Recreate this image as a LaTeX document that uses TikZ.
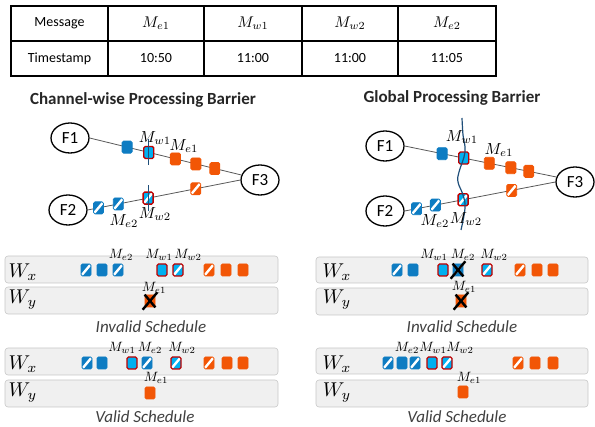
\documentclass[tikz,border=0pt]{standalone}
\usepackage{fontspec}
\setmainfont{Carlito}
\usetikzlibrary{shapes.geometric,calc}
\definecolor{msgblue}{HTML}{0E7CC2}
\definecolor{msgcyan}{HTML}{00B0F0}
\definecolor{msgorange}{HTML}{F25606}
\definecolor{msgred}{HTML}{C00000}
\definecolor{barrierblue}{HTML}{1F4E79}
\tikzset{
 flow/.style={ellipse,draw,line width=1.3pt,minimum width=38pt,minimum height=30pt,
   inner sep=0pt,font=\fontsize{17}{20}\selectfont},
 channel/.style={draw=black!65,line width=0.8pt},
 msg/.style={rectangle,rounded corners=1.5pt,minimum width=10pt,minimum height=12pt,
   inner sep=0pt,line width=0.8pt},
 striped/.style={path picture={\draw[white,line width=2.4pt]
   (path picture bounding box.south west) -- (path picture bounding box.north east);}},
 west msg/.style={msg,fill=msgblue,draw=msgblue},
 east msg/.style={msg,fill=msgorange,draw=msgorange},
 west late/.style={west msg,striped},
 east late/.style={east msg,striped},
 marker/.style={msg,draw=msgred,line width=1.3pt,fill=msgcyan},
 marker late/.style={marker,striped},
 barrier/.style={draw=barrierblue,line width=1.2pt},
 lab/.style={inner sep=0pt,scale=1.6},
 slab/.style={inner sep=0pt,scale=1.35},
 lane/.style={draw=black!22,fill=black!6,rounded corners=3pt,line width=0.6pt},
 lanename/.style={inner sep=0pt,scale=2},
 caption/.style={text=black!75,font=\fontsize{17}{20}\selectfont\itshape},
 heading/.style={text=black!85,font=\fontsize{17}{20}\selectfont\bfseries},
 cell/.style={font=\fontsize{14}{17}\selectfont},
 mcell/.style={scale=1.55},
 dropped/.style={line width=2.4pt,shorten >=-3pt,shorten <=-3pt}
}
\begin{document}
\begin{tikzpicture}[x=1pt,y=-1pt]
\useasboundingbox (0,0) rectangle (595,427);
% timestamps
\draw[line width=1.6pt] (11,6) rectangle (496,76);
\draw[line width=1.1pt] (11,41) -- (496,41);
\foreach \x in {108,204,302,398} \draw[line width=1.1pt] (\x,6) -- (\x,76);
\node[cell] (h0) at (59.5,23.5) {Message};
\node[mcell] (h1) at (156,23.5) {$M_{e1}$};
\node[mcell] (h2) at (253,23.5) {$M_{w1}$};
\node[mcell] (h3) at (350,23.5) {$M_{w2}$};
\node[mcell] (h4) at (447,23.5) {$M_{e2}$};
\node[cell] (t0) at (59.5,58.5) {Timestamp};
\node[cell] (t1) at (156,58.5) {10:50};
\node[cell] (t2) at (253,58.5) {11:00};
\node[cell] (t3) at (350,58.5) {11:00};
\node[cell] (t4) at (447,58.5) {11:05};

% channel-wise barrier
\node[heading] (cw) at (143,100) {Channel-wise Processing Barrier};
\node[flow] (f1) at (70,138) {F1};
\node[flow] (f2) at (68,210) {F2};
\node[flow] (f3) at (260,180) {F3};
\draw[channel] (f1.east) -- (f3.165);
\draw[channel] (f2.east) -- (f3.west);
\node[west msg] (a1) at ($(f1.east)!0.247!(f3.165)$) {};
\node[marker] (a2) at ($(f1.east)!0.39!(f3.165)$) {};
\node[east msg] (a3) at ($(f1.east)!0.565!(f3.165)$) {};
\node[east msg] (a4) at ($(f1.east)!0.70!(f3.165)$) {};
\node[east msg] (a5) at ($(f1.east)!0.825!(f3.165)$) {};
\node[west late] (b1) at ($(f2.east)!0.071!(f3.west)$) {};
\node[west late] (b2) at ($(f2.east)!0.201!(f3.west)$) {};
\node[marker late] (b3) at ($(f2.east)!0.396!(f3.west)$) {};
\node[east late] (b4) at ($(f2.east)!0.708!(f3.west)$) {};
\draw[barrier] ($(a2)+(0,-13)$) -- ($(a2)+(0,13)$);
\draw[barrier] ($(b3)+(0,-13)$) -- ($(b3)+(0,13)$);
\node[lab] (la2) at (155,138) {$M_{w1}$};
\node[lab] (la3) at (184,146) {$M_{e1}$};
\node[lab] (lb2) at (124,221) {$M_{e2}$};
\node[lab] (lb3) at (155,214) {$M_{w2}$};

% global barrier
\node[heading] (gb) at (452,98) {Global Processing Barrier};
\node[flow] (g1) at (385,146) {F1};
\node[flow] (g2) at (385,211) {F2};
\node[flow] (g3) at (575,182) {F3};
\draw[channel] (g1.east) -- (g3.165);
\draw[channel] (g2.east) -- (g3.west);
\node[west msg] (c1) at ($(g1.east)!0.247!(g3.165)$) {};
\node[marker] (c2) at ($(g1.east)!0.39!(g3.165)$) {};
\node[east msg] (c3) at ($(g1.east)!0.558!(g3.165)$) {};
\node[east msg] (c4) at ($(g1.east)!0.70!(g3.165)$) {};
\node[east msg] (c5) at ($(g1.east)!0.818!(g3.165)$) {};
\node[west late] (d1) at ($(g2.east)!0.079!(g3.west)$) {};
\node[west late] (d2) at ($(g2.east)!0.204!(g3.west)$) {};
\node[marker late] (d3) at ($(g2.east)!0.388!(g3.west)$) {};
\node[east late] (d4) at ($(g2.east)!0.71!(g3.west)$) {};
\draw[barrier] plot[smooth,tension=0.7] coordinates {(462,118) (463,135) (465,152)
  (459,172) (458,182) (463,195) (465,208) (461,230)};
\node[lab] (lc2) at (462,137) {$M_{w1}$};
\node[lab] (lc3) at (499,150) {$M_{e1}$};
\node[lab] (ld2) at (435,221) {$M_{e2}$};
\node[lab] (ld3) at (466,219) {$M_{w2}$};

% invalid schedules
\draw[lane] (5,256) rectangle (278,283);
\draw[lane] (5,287) rectangle (278,314);
\draw[lane] (316,257) rectangle (588,283);
\draw[lane] (316,288) rectangle (588,315);
\node[lanename] (ix1) at (23,272) {$W_x$};
\node[lanename] (iy1) at (23,300) {$W_y$};
\node[lanename] (ix2) at (337,272) {$W_x$};
\node[lanename] (iy2) at (337,300) {$W_y$};
\node[west late] (p1) at (86,270) {};
\node[west msg] (p2) at (102,270) {};
\node[west late] (p3) at (118,270) {};
\node[marker] (p4) at (162,270) {};
\node[marker late] (p5) at (178,270) {};
\node[east late] (p6) at (209,270) {};
\node[east msg] (p7) at (226,270) {};
\node[east msg] (p8) at (243,270) {};
\node[east msg] (p9) at (150,301) {};
\draw[dropped] (p9.north west) -- (p9.south east) (p9.north east) -- (p9.south west);
\node[slab] (lp3) at (121,255) {$M_{e2}$};
\node[slab] (lp4) at (159,255) {$M_{w1}$};
\node[slab] (lp5) at (188,255) {$M_{w2}$};
\node[slab] (lp9) at (154,288) {$M_{e1}$};
\node[west late] (q1) at (397,270) {};
\node[west msg] (q2) at (413,270) {};
\node[marker] (q3) at (443,270) {};
\node[west late] (q4) at (458,270) {};
\node[marker late] (q5) at (487,270) {};
\node[east late] (q6) at (520,270) {};
\node[east msg] (q7) at (537,270) {};
\node[east msg] (q8) at (553,270) {};
\node[east msg] (q9) at (461,301) {};
\draw[dropped] (q4.north west) -- (q4.south east) (q4.north east) -- (q4.south west);
\draw[dropped] (q9.north west) -- (q9.south east) (q9.north east) -- (q9.south west);
\node[slab] (lq3) at (434,255) {$M_{w1}$};
\node[slab] (lq4) at (463,255) {$M_{e2}$};
\node[slab] (lq5) at (494,255) {$M_{w2}$};
\node[slab] (lq9) at (464,287) {$M_{e1}$};
\node[caption] (inv1) at (151,327) {Invalid Schedule};
\node[caption] (inv2) at (462,327) {Invalid Schedule};

% valid schedules
\draw[lane] (5,348) rectangle (278,375);
\draw[lane] (5,380) rectangle (278,407);
\draw[lane] (316,348) rectangle (588,374);
\draw[lane] (316,380) rectangle (588,407);
\node[lanename] (vx1) at (23,364) {$W_x$};
\node[lanename] (vy1) at (23,393) {$W_y$};
\node[lanename] (vx2) at (337,364) {$W_x$};
\node[lanename] (vy2) at (337,393) {$W_y$};
\node[west late] (r1) at (87,363) {};
\node[west msg] (r2) at (102,363) {};
\node[marker] (r3) at (132,363) {};
\node[west late] (r4) at (147,363) {};
\node[marker late] (r5) at (176,363) {};
\node[east late] (r6) at (209,363) {};
\node[east msg] (r7) at (227,363) {};
\node[east msg] (r8) at (243,363) {};
\node[east msg] (r9) at (150,393) {};
\node[slab] (lr3) at (122,348) {$M_{w1}$};
\node[slab] (lr4) at (150,348) {$M_{e2}$};
\node[slab] (lr5) at (182,348) {$M_{w2}$};
\node[slab] (lr9) at (156,378) {$M_{e1}$};
\node[west late] (s1) at (388,363) {};
\node[west msg] (s2) at (402,363) {};
\node[west late] (s3) at (415,363) {};
\node[marker] (s4) at (432,363) {};
\node[marker late] (s5) at (447,363) {};
\node[east late] (s6) at (518,363) {};
\node[east msg] (s7) at (535,363) {};
\node[east msg] (s8) at (553,363) {};
\node[east msg] (s9) at (463,392) {};
\node[slab] (ls3) at (407,348) {$M_{e2}$};
\node[slab] (ls4) at (433,348) {$M_{w1}$};
\node[slab] (ls5) at (460,348) {$M_{w2}$};
\node[slab] (ls9) at (469,378) {$M_{e1}$};
\node[caption] (val1) at (145,417) {Valid Schedule};
\node[caption] (val2) at (457,417) {Valid Schedule};
\end{tikzpicture}
\end{document}
